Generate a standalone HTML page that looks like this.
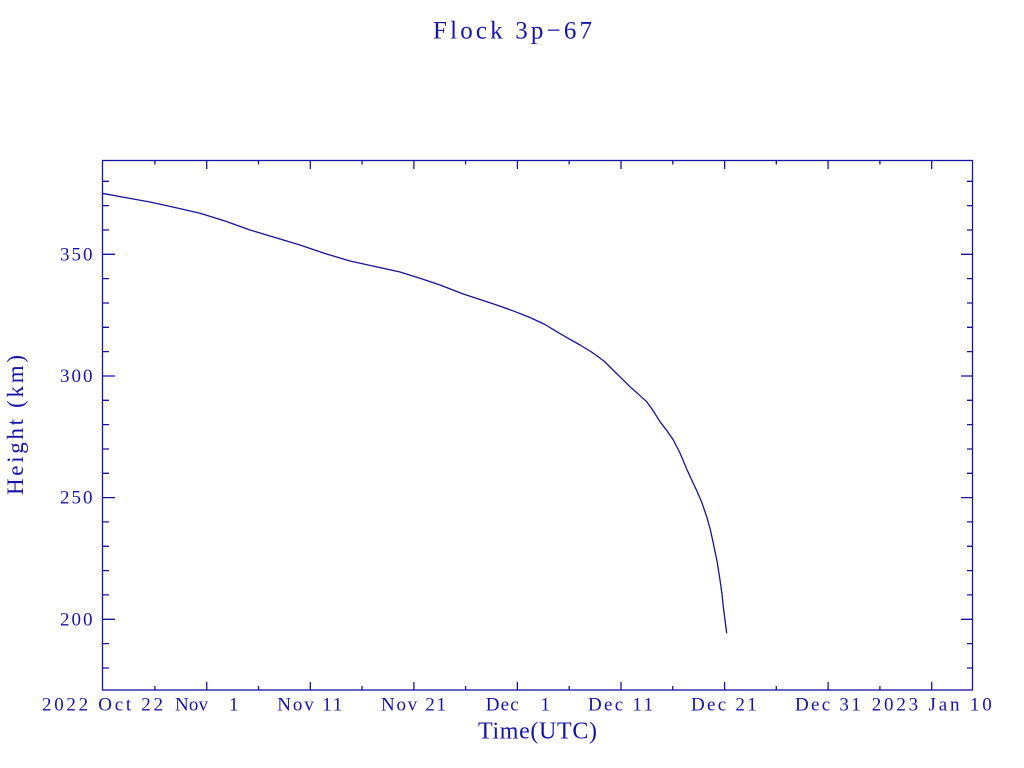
<!DOCTYPE html>
<html>
<head>
<meta charset="utf-8">
<style>
  html, body { margin: 0; padding: 0; background: #ffffff; }
  svg { display: block; }
  text { font-family: "Liberation Serif", "DejaVu Serif", serif; fill: #1414a8; }
</style>
</head>
<body>
<svg width="1024" height="768" viewBox="0 0 1024 768" xmlns="http://www.w3.org/2000/svg">
  <rect x="0" y="0" width="1024" height="768" fill="#ffffff"/>

  <!-- Title -->
  <text x="433" y="38.3" font-size="25" textLength="159" lengthAdjust="spacing">Flock 3p−67</text>

  <!-- Frame -->
  <rect x="102.5" y="160.5" width="870" height="529.5" fill="none" stroke="#1414a0" stroke-width="1.3"/>

  <g stroke="#1414a0" stroke-width="1.3" fill="none">
    <path d="M206.7 690 V682 M310.3 690 V682 M413.9 690 V682 M517.4 690 V682 M621 690 V682 M724.6 690 V682 M828.1 690 V682 M931.7 690 V682"/>
    <path d="M206.7 160 V169 M310.3 160 V169 M413.9 160 V169 M517.4 160 V169 M621 160 V169 M724.6 160 V169 M828.1 160 V169 M931.7 160 V169"/>
    <path d="M154.9 690 V686 M258.5 690 V686 M362 690 V686 M465.6 690 V686 M569.2 690 V686 M672.8 690 V686 M776.3 690 V686 M879.9 690 V686"/>
    <path d="M154.9 160 V164.5 M258.5 160 V164.5 M362 160 V164.5 M465.6 160 V164.5 M569.2 160 V164.5 M672.8 160 V164.5 M776.3 160 V164.5 M879.9 160 V164.5"/>
    <path d="M102 254.3 H115 M102 376 H115 M102 497.6 H115 M102 619.3 H115"/>
    <path d="M973 254.3 H961 M973 376 H961 M973 497.6 H961 M973 619.3 H961"/>
    <path d="M102 181.3 H109 M102 205.6 H109 M102 230 H109 M102 278.6 H109 M102 303 H109 M102 327.3 H109 M102 351.6 H109 M102 400.3 H109 M102 424.6 H109 M102 449 H109 M102 473.3 H109 M102 521.9 H109 M102 546.3 H109 M102 570.6 H109 M102 594.9 H109 M102 643.6 H109 M102 668 H109"/>
    <path d="M973 181.3 H967 M973 205.6 H967 M973 230 H967 M973 278.6 H967 M973 303 H967 M973 327.3 H967 M973 351.6 H967 M973 400.3 H967 M973 424.6 H967 M973 449 H967 M973 473.3 H967 M973 521.9 H967 M973 546.3 H967 M973 570.6 H967 M973 594.9 H967 M973 643.6 H967 M973 668 H967"/>
  </g>

  <!-- Y tick labels -->
  <g font-size="19">
    <text x="60" y="260.3" textLength="32.5" lengthAdjust="spacing">350</text>
    <text x="60" y="382" textLength="32.5" lengthAdjust="spacing">300</text>
    <text x="60" y="503.6" textLength="32.5" lengthAdjust="spacing">250</text>
    <text x="60" y="625.3" textLength="32.5" lengthAdjust="spacing">200</text>
  </g>

  <!-- X tick labels -->
  <g font-size="19">
    <text x="42" y="710.3" textLength="121" lengthAdjust="spacing">2022 Oct 22</text>
    <text x="175" y="710.3" textLength="33" lengthAdjust="spacing">Nov</text>
    <text x="229" y="710.3">1</text>
    <text x="277.3" y="710.3" textLength="65" lengthAdjust="spacing">Nov 11</text>
    <text x="381" y="710.3" textLength="65" lengthAdjust="spacing">Nov 21</text>
    <text x="485.7" y="710.3" textLength="33" lengthAdjust="spacing">Dec</text>
    <text x="540.5" y="710.3">1</text>
    <text x="588" y="710.3" textLength="65" lengthAdjust="spacing">Dec 11</text>
    <text x="691" y="710.3" textLength="65.7" lengthAdjust="spacing">Dec 21</text>
    <text x="795" y="710.3" textLength="65.7" lengthAdjust="spacing">Dec 31</text>
    <text x="871.7" y="710.3" textLength="120" lengthAdjust="spacing">2023 Jan 10</text>
  </g>

  <!-- Axis labels -->
  <text x="478" y="738.3" font-size="24" textLength="119" lengthAdjust="spacing">Time(UTC)</text>
  <text transform="translate(23,495) rotate(-90)" font-size="23" textLength="140" lengthAdjust="spacing">Height (km)</text>

  <!-- Data curve -->
  <polyline fill="none" stroke="#141496" stroke-width="1.3" stroke-linejoin="round"
    points="102,193.3 125,197.5 150,202 175,207.5 200,213.3 225,221 250,230 275,237.5 300,245 325,253.5 350,261 375,266.5 400,272 420,278.3 440,285 463.3,294 480,299.5 496.7,305 513,310.8 530,317.5 545,324.5 556.7,331.7 568,338.2 580,345 590,351 598,356.5 605,362 613,370 621,377.8 630,386.7 638,393.8 646.7,401.7 653,410.5 660,421.7 667,430.8 673.3,440 680,453 686.7,469 691.7,480 696.7,490.5 702,503 706.7,516.7 710.3,529.5 713.3,543.3 717,561 720,580 722,594 723.3,606.7 725,620 726.7,633.3"/>
</svg>
</body>
</html>
